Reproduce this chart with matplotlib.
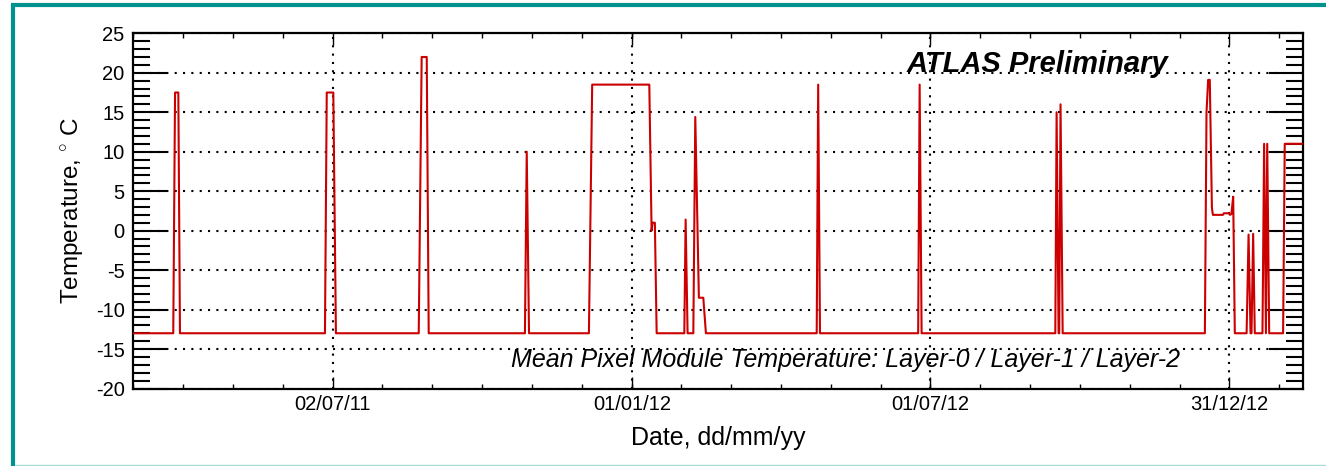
import numpy as np
import matplotlib
matplotlib.use("Agg")
import matplotlib.pyplot as plt
import matplotlib.dates as mdates
from matplotlib.lines import Line2D
from matplotlib.ticker import FixedLocator, MultipleLocator

plt.rcParams['font.family'] = ['Liberation Sans', 'DejaVu Sans']
plt.rcParams['mathtext.fontset'] = 'custom'
plt.rcParams['mathtext.rm'] = 'Liberation Sans'
plt.rcParams['axes.unicode_minus'] = False

# days since run start, and mean module temperature (deg C)
start_date = "2011-03-02"
day_offset = [0.0, 24.6, 25.7, 27.7, 28.7,
              117.3, 118.4, 122.4, 124.0,
              174.6, 176.4, 179.5, 180.7,
              239.5, 240.6, 242.0,
              278.6, 280.6, 315.5, 316.9, 317.5, 318.9, 320.0,
              336.9, 337.7, 338.9,
              342.4, 343.6, 345.8, 348.5, 350.1,
              417.8, 418.7, 419.8,
              479.8, 480.7, 481.9,
              563.6, 564.4, 565.6, 566.0, 566.8, 568.1,
              655.0, 656.0, 657.0, 658.0, 659.3, 659.9, 666.0, 666.6,
              669.7, 670.3, 671.2, 672.3, 673.3,
              680.5, 681.7, 682.9, 683.5, 684.5, 685.5,
              690.2, 691.2, 692.3, 693.1, 694.3,
              702.8, 703.8, 713.0, 715.0]
temperature = [-13, -13, 17.5, 17.5, -13,
               -13, 17.5, 17.5, -13,
               -13, 22, 22, -13,
               -13, 10, -13,
               -13, 18.5, 18.5, 0, 1.0, 1.0, -13,
               -13, 1.4, -13,
               -13, 14.4, -8.5, -8.5, -13,
               -13, 18.5, -13,
               -13, 18.5, -13,
               -13, 15, -13, -13, 16, -13,
               -13, 15, 19.1, 19.1, 2.9, 2.0, 2.0, 2.2,
               2.2, 2.0, 2.1, 4.3, -13,
               -13, -0.5, -13, -13, -0.4, -13,
               -13, 11, -13, 11, -13,
               -13, 11, 11, 11]
major_dates = ["2011-07-02", "2012-01-01", "2012-07-01", "2012-12-31"]
x_end_offset = 715.0

t0 = mdates.date2num(np.datetime64(start_date))
x = t0 + np.array(day_offset)
majors = [mdates.date2num(np.datetime64(d)) for d in major_dates]

fig = plt.figure(figsize=(13.26, 4.66), dpi=100)
ax = fig.add_axes([0.1003, 0.1663, 0.8824, 0.7622])

ax.plot(x, temperature, color='#cc0000', lw=1.5, zorder=3)

ax.set_xlim(t0, t0 + x_end_offset)
ax.set_ylim(-20, 25)

# minor ticks: 6 divisions per major interval
step = (majors[-1] - majors[0]) / 18.0
minors = majors[0] + step * np.arange(-4, 21)
ax.xaxis.set_major_locator(FixedLocator(majors))
ax.xaxis.set_minor_locator(FixedLocator(minors))
ax.xaxis.set_major_formatter(mdates.DateFormatter('%d/%m/%y'))
ax.yaxis.set_major_locator(MultipleLocator(5))
ax.yaxis.set_minor_locator(MultipleLocator(1))

ax.tick_params(axis='y', which='both', direction='in', left=True, right=True,
               width=1.5, labelsize=14.5, pad=6)
ax.tick_params(axis='y', which='major', length=24.5)
ax.tick_params(axis='y', which='minor', length=12.2)
ax.tick_params(axis='x', which='both', direction='in', top=True, bottom=True,
               width=1.0, labelsize=14.5, pad=5)
ax.tick_params(axis='x', which='major', length=8.5)
ax.tick_params(axis='x', which='minor', length=3.8)

for s in ax.spines.values():
    s.set_linewidth(1.6)

ax.grid(True, which='major', color='black', linestyle=(0, (1, 3)), lw=1.5)
ax.set_axisbelow(True)

ax.set_xlabel('Date, dd/mm/yy', fontsize=18, labelpad=8)
ax.set_ylabel(r'Temperature, $^{\circ}$ C', fontsize=17.5, labelpad=7)

ax.text(0.8846, 0.891, 'ATLAS Preliminary', transform=ax.transAxes,
        ha='right', va='baseline', fontsize=21, fontweight='bold',
        fontstyle='italic')
ax.text(0.895, 0.0605, 'Mean Pixel Module Temperature: Layer-0 / Layer-1 / Layer-2',
        transform=ax.transAxes, ha='right', va='baseline', fontsize=18,
        fontstyle='italic')

# teal frame
W, H = 1326.0, 466.0
teal = '#00938d'
fig.add_artist(Line2D([13 / W, 13 / W], [0, 1 - 5 / H], color=teal, lw=3,
                      transform=fig.transFigure, solid_capstyle='butt'))
fig.add_artist(Line2D([11 / W, 1], [1 - 5 / H, 1 - 5 / H], color=teal, lw=3,
                      transform=fig.transFigure, solid_capstyle='butt'))
fig.add_artist(Line2D([15 / W, 1], [1.2 / H, 1.2 / H], color='#a8dcd6', lw=1,
                      transform=fig.transFigure, solid_capstyle='butt'))

fig.savefig('out.png', dpi=100)
